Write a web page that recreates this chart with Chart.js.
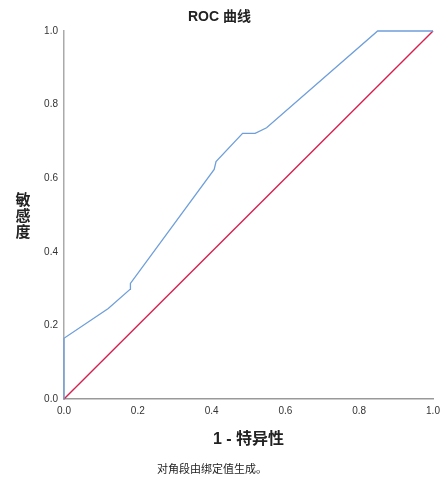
<!DOCTYPE html>
<html>
<head>
<meta charset="utf-8">
<script src="https://cdn.jsdelivr.net/npm/chart.js@4/dist/chart.umd.min.js"></script>
<style>
  body { margin: 0; background: #fff; }
  #wrap { width: 443px; height: 478px; }
</style>
</head>
<body>
<div id="wrap"><canvas id="roc" width="443" height="478"></canvas></div>
<script>
// ROC curve points
const fpr = [0, 0, 0.12, 0.179, 0.18, 0.407, 0.412, 0.484, 0.518, 0.549, 0.85, 1];
const tpr = [0, 0.165, 0.246, 0.298, 0.314, 0.624, 0.645, 0.722, 0.722, 0.737, 1, 1];
// reference (diagonal) line
const refX = [0, 1];
const refY = [0, 1];
const tickValues = [0, 0.2, 0.4, 0.6, 0.8, 1];

const chartTitle = 'ROC 曲线';
const xTitle = '1 - 特异性';
const yTitle = ['敏', '感', '度'];
const footNote = '对角段由绑定值生成。';

const toPoints = (xs, ys) => xs.map((x, i) => ({ x: x, y: ys[i] }));

// draws titles and the footnote (y title is stacked upright)
const textPlugin = {
  id: 'rocText',
  afterDraw(chart) {
    const ctx = chart.ctx;
    const area = chart.chartArea;
    ctx.save();
    ctx.fillStyle = '#222';
    ctx.textAlign = 'center';
    ctx.textBaseline = 'middle';

    ctx.font = 'bold 14px "Liberation Sans", "Noto Sans CJK SC", sans-serif';
    ctx.fillText(chartTitle, chart.width / 2 - 2, 17);

    ctx.font = 'bold 16px "Liberation Sans", "Noto Sans CJK SC", sans-serif';
    ctx.fillText(xTitle, (area.left + area.right) / 2, 440);

    ctx.font = 'bold 15px "Noto Sans CJK SC", sans-serif';
    const midY = (area.top + area.bottom) / 2;
    yTitle.forEach((ch, i) => {
      ctx.fillText(ch, 23, midY + (i - 1) * 16);
    });

    ctx.font = '11px "Noto Sans CJK SC", sans-serif';
    ctx.fillStyle = '#222';
    ctx.fillText(footNote, 212, 469);
    ctx.restore();
  }
};

const axisFont = { family: '"Liberation Sans", Arial, sans-serif', size: 10 };

new Chart(document.getElementById('roc'), {
  type: 'scatter',
  data: {
    datasets: [
      {
        label: 'ROC',
        data: toPoints(fpr, tpr),
        showLine: true,
        borderColor: '#6f9fda',
        borderWidth: 1.3,
        pointRadius: 0,
        tension: 0,
        clip: false,
      },
      {
        label: '参考线',
        data: toPoints(refX, refY),
        showLine: true,
        borderColor: '#d8204e',
        borderWidth: 1.4,
        pointRadius: 0,
        clip: false,
      },
    ],
  },
  options: {
    responsive: false,
    animation: false,
    layout: {
      padding: { top: 31, right: 10, bottom: 59, left: 0 },
    },
    plugins: {
      legend: { display: false },
      tooltip: { enabled: false },
    },
    scales: {
      x: {
        type: 'linear',
        min: 0,
        max: 1,
        afterFit: (scale) => {
          scale.height = 20;
          scale.paddingRight = 0;
          scale.paddingLeft = 0;
        },
        afterBuildTicks: (scale) => { scale.ticks = tickValues.map(v => ({ value: v })); },
        grid: { display: false, drawTicks: false },
        border: { display: true, color: '#999', width: 1.5 },
        ticks: {
          padding: 6,
          color: '#333',
          font: axisFont,
          maxRotation: 0,
          callback: (v) => v.toFixed(1),
        },
      },
      y: {
        type: 'linear',
        min: 0,
        max: 1,
        afterFit: (scale) => { scale.width = 64; },
        afterBuildTicks: (scale) => { scale.ticks = tickValues.map(v => ({ value: v })); },
        grid: { display: false, drawTicks: false },
        border: { display: true, color: '#aaa', width: 1.5 },
        ticks: {
          padding: 6,
          color: '#333',
          font: axisFont,
          callback: (v) => v.toFixed(1),
        },
      },
    },
  },
  plugins: [textPlugin],
});
</script>
</body>
</html>
